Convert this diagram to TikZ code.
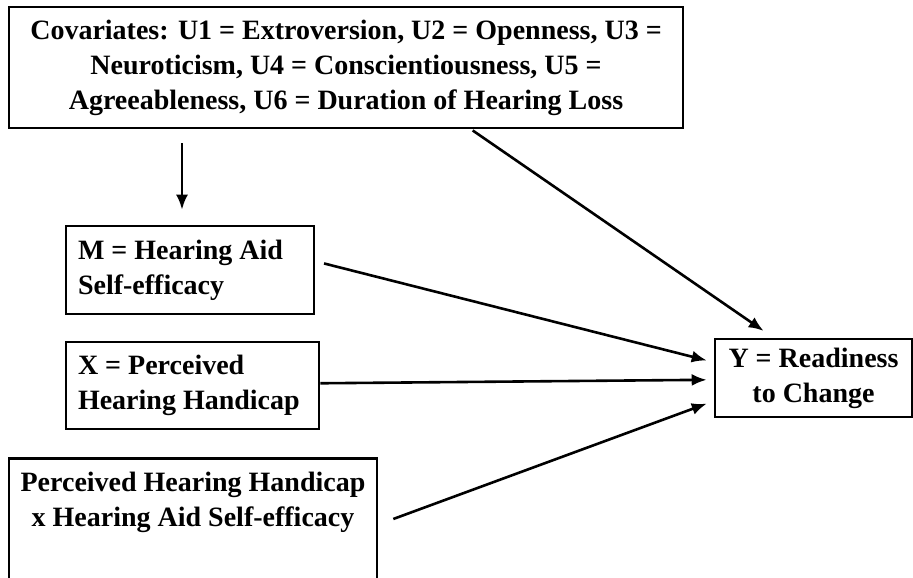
\documentclass[tikz,border=0pt]{standalone}
\usepackage{fontspec}
\setmainfont{Liberation Serif}
\usetikzlibrary{arrows.meta}

\begin{document}
\begin{tikzpicture}[x=0.5pt,y=-0.5pt,
		box/.style={rectangle,draw,line width=1.3pt,inner sep=0pt,font=\fontsize{14}{17.5}\selectfont\bfseries},
		arr/.style={-{Latex[length=7.5pt,width=6pt]},line width=1.3pt}]
				\useasboundingbox (0,0) rectangle (913,577);
				\node[box,minimum width=337pt,minimum height=60.5pt,align=center] (cov) at (346,67.5) {Covariates: U1 = Extroversion, U2 = Openness, U3 =\\Neuroticism, U4 = Conscientiousness, U5 =\\Agreeableness, U6 = Duration of Hearing Loss};
				\node[box,minimum width=124pt,minimum height=44pt,text width=112pt,align=flush left] (med) at (190,270) {M = Hearing Aid\\Self-efficacy};
				\node[box,minimum width=126.5pt,minimum height=43.5pt,text width=114.5pt,align=flush left] (xv) at (192.5,385.5) {X = Perceived\\Hearing Handicap};
				\node[box,minimum width=184pt,inner ysep=7pt,anchor=north,align=center] (int) at (193,457) {Perceived Hearing Handicap\\x Hearing Aid Self-efficacy\\[30pt]};
				\node[box,minimum width=98.5pt,minimum height=39pt,align=center] (res) at (813.5,378) {Y = Readiness\\to Change};
				\path[arr,draw,shorten <=7pt,shorten >=7.5pt] ([xshift=-82pt]cov.south) -- ([xshift=-4pt]med.north);
				\path[arr,draw,shorten <=1pt,shorten >=6pt] ([xshift=62.5pt]cov.south) -- ([xshift=-20pt]res.north);
				\path[arr,draw,shorten <=4.5pt,shorten >=3.6pt] (med.4) -- (res.171);
				\path[arr,draw,shorten >=3.5pt] (xv.1) -- (res.181);
				\path[arr,draw,shorten <=8pt,shorten >=3.7pt] ([yshift=-33.75pt]int.north east) -- (res.193);
			\end{tikzpicture}
\end{document}
